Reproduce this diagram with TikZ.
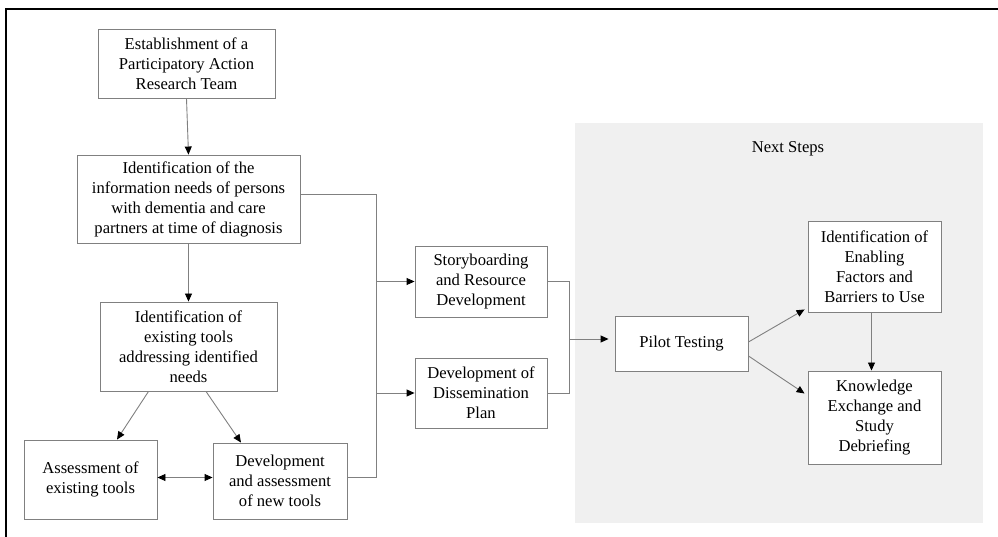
\documentclass[tikz,border=0pt]{standalone}
\usepackage{fontspec}
\setmainfont{Liberation Serif}
\usetikzlibrary{arrows.meta,calc}
\definecolor{linegray}{RGB}{128,128,128}
\definecolor{panelgray}{RGB}{240,240,240}
\begin{document}
\begin{tikzpicture}[x=1bp,y=-1bp,
  box/.style={draw=linegray,line width=0.9bp,fill=white,align=center,inner sep=0pt,
    font=\fontsize{16.6bp}{20bp}\selectfont},
  conn/.style={draw=linegray,line width=0.9bp},
  arr/.style={conn,-{Triangle[color=black,length=8bp,width=7bp]}},
  darr/.style={conn,{Triangle[color=black,length=8bp,width=7bp]}-{Triangle[color=black,length=8bp,width=7bp]}}
]
\useasboundingbox (0,0) rectangle (998,537);
% panel
\fill[panelgray] (575,123) rectangle (983,523);
\node[font=\fontsize{16.6bp}{20bp}\selectfont] (next) at (788,149) {Next Steps};
% outer frame
\draw[black,line width=2bp] (6,537) -- (6,9) -- (998,9);
% boxes
\node[box,minimum width=177bp,minimum height=69bp] (b1) at (186.5,63.5) {Establishment of a\\Participatory Action\\Research Team};
\node[box,minimum width=223bp,minimum height=88bp] (b2) at (188.5,199) {Identification of the\\information needs of persons\\with dementia and care\\partners at time of diagnosis};
\node[box,minimum width=177bp,minimum height=89bp] (b3) at (188.5,346.5) {Identification of\\existing tools\\addressing identified\\needs};
\node[box,minimum width=133bp,minimum height=79bp] (b4) at (90.5,479.5) {Assessment of\\existing tools};
\node[box,minimum width=134bp,minimum height=76bp] (b5) at (280,481) {Development\\and assessment\\of new tools};
\node[box,minimum width=132bp,minimum height=71bp] (b6) at (481,281.5) {Storyboarding\\and Resource\\Development};
\node[box,minimum width=132bp,minimum height=70bp] (b7) at (481,393) {Development of\\Dissemination\\Plan};
\node[box,minimum width=133bp,minimum height=55bp] (b8) at (681.5,344) {Pilot Testing};
\node[box,minimum width=133bp,minimum height=91bp] (b9) at (874.5,266.5) {Identification of\\Enabling\\Factors and\\Barriers to Use};
\node[box,minimum width=133bp,minimum height=93bp] (b10) at (874.5,417.5) {Knowledge\\Exchange and\\Study\\Debriefing};
% bus coordinates
\coordinate (busA) at (376.5,0);
\coordinate (busB) at (569,0);
% connectors
\draw[arr] (b1.south) -- (b2.north);
\draw[arr] (b2.south) -- (b3.north);
\draw[arr] ([xshift=-40bp]b3.south) -- ([xshift=26.5bp]b4.north);
\draw[arr] ([xshift=17.5bp]b3.south) -- ([xshift=-39bp]b5.north);
\draw[darr] ([yshift=2bp]b4.east) -- ([yshift=2bp]b4.east -| b5.west);
\draw[conn] ([yshift=5bp]b2.east) -| ([yshift=4bp]busA |- b5.east) -- ([yshift=4bp]b5.east);
\draw[arr] (busA |- b6.west) -- (b6.west);
\draw[arr] (busA |- b7.west) -- (b7.west);
\draw[conn] (b6.east) -- (busB |- b6.east) -- (busB |- b7.east) -- (b7.east);
\draw[arr] ([yshift=5bp]busB |- b8.west) -- ([yshift=5bp,xshift=-6bp]b8.west);
\draw[arr] ([yshift=2bp]b8.east) -- ([xshift=-3bp,yshift=3bp]b9.south west);
\draw[arr] ([yshift=-12bp]b8.east) -- ([xshift=-3bp,yshift=24bp]b10.west);
\draw[arr] ([xshift=-3bp]b9.south) -- ([xshift=-3bp]b10.north);
\end{tikzpicture}
\end{document}
